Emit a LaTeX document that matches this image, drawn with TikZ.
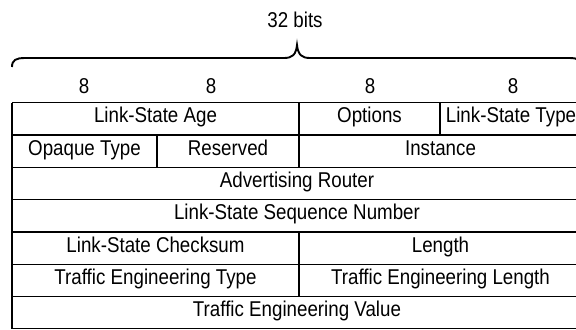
\documentclass[tikz,border=0pt]{standalone}
\usepackage{fontspec}
\setmainfont{Liberation Sans}[FakeStretch=0.875]
\begin{document}
\begin{tikzpicture}[x=1bp,y=-1bp,
  grid/.style={line width=1.25bp, draw=black},
  bracestroke/.style={line width=1.9bp, draw=black},
  lbl/.style={anchor=base, inner sep=0pt, font=\fontsize{21.5}{24}\selectfont, text=black}]
\useasboundingbox (0,0) rectangle (576,329);
\clip (0,0) rectangle (576,329);

% column boundaries and row tops of the packet layout
\def\ca{12}\def\cb{157}\def\cc{299}\def\cd{440}\def\ce{582}
\def\ra{102.7}\def\rb{135}\def\rc{167.3}\def\rd{199.6}
\def\re{231.9}\def\rf{264.2}\def\rg{296.5}\def\rh{328.8}

% horizontal rules
\foreach \r in {\ra,\rb,\rc,\rd,\re,\rf,\rg,\rh}
  \draw[grid] (\ca,\r) -- (\ce,\r);
% outer sides
\draw[grid] (\ca,\ra) -- (\ca,\rh);
\draw[grid] (\ce,\ra) -- (\ce,\rh);
% field separators
\draw[grid] (\cb,\rb) -- (\cb,\rc);
\draw[grid] (\cc,\ra) -- (\cc,\rc);
\draw[grid] (\cc,\re) -- (\cc,\rg);
\draw[grid] (\cd,\ra) -- (\cd,\rb);

% brace spanning the 32-bit word
\coordinate (bl) at (12,67);
\coordinate (br) at (582,67);
\coordinate (tip) at (297,45);
\draw[bracestroke] (bl) .. controls (12,60) and (16,58) .. (25,58) -- (284,58)
  .. controls (292,58) and (296,55) .. (tip)
  .. controls (298,55) and (302,58) .. (310,58) -- (569,58)
  .. controls (578,58) and (582,60) .. (br);
\node[lbl] (width) at (295,27) {32 bits};

% octet widths
\node[lbl] (o1) at (84,93.3) {8};
\node[lbl] (o2) at (211,93.3) {8};
\node[lbl] (o3) at (370,93.3) {8};
\node[lbl] (o4) at (513,93.3) {8};

% field names
\node[lbl] (age)   at (155.5,\ra+20.2) {Link-State Age};
\node[lbl] (opts)  at (369.5,\ra+20.2) {Options};
\node[lbl] (lstyp) at (511,\ra+20.2) {Link-State Type};
\node[lbl] (opq)   at (84.5,\rb+20.2) {Opaque Type};
\node[lbl] (rsv)   at (228,\rb+20.2) {Reserved};
\node[lbl] (inst)  at (440.5,\rb+20.2) {Instance};
\node[lbl] (adv)   at (297,\rc+20.2) {Advertising Router};
\node[lbl] (seq)   at (297,\rd+20.2) {Link-State Sequence Number};
\node[lbl] (cks)   at (155.5,\re+20.2) {Link-State Checksum};
\node[lbl] (len)   at (440.5,\re+20.2) {Length};
\node[lbl] (tetyp) at (155.5,\rf+20.2) {Traffic Engineering Type};
\node[lbl] (telen) at (440.5,\rf+20.2) {Traffic Engineering Length};
\node[lbl] (teval) at (297,\rg+20.2) {Traffic Engineering Value};
\end{tikzpicture}
\end{document}
